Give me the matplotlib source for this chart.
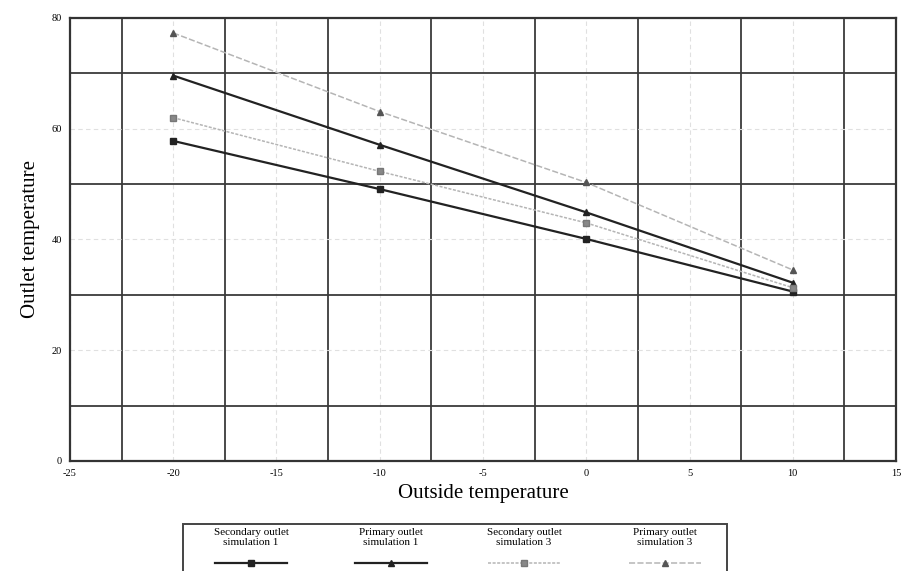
import numpy as np
import matplotlib.pyplot as plt
from matplotlib.lines import Line2D
from matplotlib.patches import Rectangle

plt.rcParams['font.family'] = ['Liberation Serif', 'DejaVu Serif']
plt.rcParams['axes.unicode_minus'] = False

outside = [-20, -10, 0, 10]
sec_sim1 = [57.8, 49.1, 40.1, 30.6]
prim_sim1 = [69.6, 57.1, 44.9, 32.2]
sec_sim3 = [62.0, 52.3, 43.0, 31.3]
prim_sim3 = [77.3, 63.1, 50.3, 34.5]

labels = ["Secondary outlet\nsimulation 1", "Primary outlet\nsimulation 1",
          "Secondary outlet\nsimulation 3", "Primary outlet\nsimulation 3"]

x_ticks = [-25, -20, -15, -10, -5, 0, 5, 10, 15]
y_ticks = [0, 20, 40, 60, 80]

fig = plt.figure(figsize=(9.06, 5.71), dpi=100)
ax = fig.add_axes([70 / 906, 1 - 461 / 571, 826 / 906, 443 / 571])

styles = [
    dict(color="#222222", lw=1.6, ls="-", marker="s", ms=4, mfc="#222222", mec="#222222"),
    dict(color="#222222", lw=1.6, ls="-", marker="^", ms=5, mfc="#222222", mec="#222222"),
    dict(color="#b5b5b5", lw=1.1, ls=(0, (2, 1)), marker="s", ms=5, mfc="#888888", mec="#777777"),
    dict(color="#b5b5b5", lw=1.1, ls=(0, (4, 1.5)), marker="^", ms=5, mfc="#555555", mec="#555555"),
]
series = [sec_sim1, prim_sim1, sec_sim3, prim_sim3]
for s, st in zip(series, styles):
    ax.plot(outside, s, zorder=3, **st)

ax.set_xlim(-25, 15)
ax.set_ylim(0, 80)
ax.set_xticks(x_ticks)
ax.set_yticks(y_ticks)
ax.set_xticks(np.arange(-22.5, 15, 5), minor=True)
ax.set_yticks([10, 30, 50, 70], minor=True)
ax.grid(True, which="major", color="#e0e0e0", lw=0.8, ls=(0, (4, 3)))
ax.grid(True, which="minor", color="#3a3a3a", lw=1.3)
ax.tick_params(which="both", length=0)
ax.tick_params(labelsize=7.5, pad=6)
for sp in ax.spines.values():
    sp.set_color("#333333")
    sp.set_linewidth(1.6)

ax.set_xlabel("Outside temperature", fontsize=15, labelpad=4)
ax.set_ylabel("Outlet temperature", fontsize=15, labelpad=8)

# legend box drawn under the axes
fig.patches.append(Rectangle((183 / 906, -0.01), 544 / 906, 0.01 + 1 - 524 / 571,
                             transform=fig.transFigure, fill=False,
                             ec="#444444", lw=1.4))
col_x = [251, 391, 524, 665]
for cx, lab, st in zip(col_x, labels, styles):
    fig.text(cx / 906, 1 - 528 / 571, lab, ha="center", va="top",
             fontsize=8, linespacing=1.1)
    fig.lines.append(Line2D([(cx - 36) / 906, (cx + 36) / 906], [1 - 563 / 571] * 2,
                            transform=fig.transFigure, color=st["color"],
                            lw=st["lw"], ls=st["ls"]))
    fig.lines.append(Line2D([cx / 906], [1 - 563 / 571], transform=fig.transFigure,
                            marker=st["marker"], ms=4, mfc=st["mfc"], mec=st["mec"],
                            ls="none"))

fig.savefig("out.png", dpi=100)
